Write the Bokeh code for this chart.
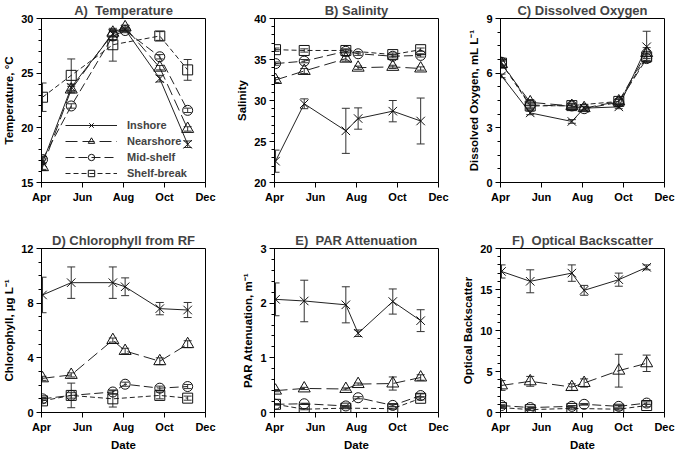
from bokeh.plotting import figure
from bokeh.models import Range1d, FixedTicker, Whisker, TeeHead, ColumnDataSource
from bokeh.layouts import column, row
from bokeh.embed import file_html
from bokeh.resources import INLINE

# ---------------- data ----------------
sample_month = [4.05, 5.45, 7.48, 8.08, 9.77, 11.13]
tick_months = [4, 6, 8, 10, 12]
tick_labels = ["Apr", "Jun", "Aug", "Oct", "Dec"]
series_names = ["Inshore", "Nearshore", "Mid-shelf", "Shelf-break"]

temp_inshore = [16.8, 23.7, 28.6, 29.0, 24.5, 18.5]
temp_nearshore = [16.4, 23.5, 28.7, 29.2, 25.5, 19.9]
temp_midshelf = [17.1, 22.0, 28.4, 28.9, 26.5, 21.6]
temp_shelfbreak = [22.8, 24.8, 27.6, None, 28.4, 25.3]
temp_err_inshore = [0.6, 0.3, 0.3, 0.2, 0.3, 0.3]
temp_err_nearshore = [0.3, 0.3, 0.3, 0.2, 0.2, 0.2]
temp_err_midshelf = [0.3, 0.2, 0.4, 0.2, 0.2, 0.2]
temp_err_shelfbreak = [1.3, 1.5, 1.5, None, 0.4, 0.95]

sal_inshore = [22.6, 29.6, 26.3, 27.8, 28.7, 27.5]
sal_nearshore = [32.5, 33.6, 35.1, 34.0, 34.1, 33.9]
sal_midshelf = [34.5, 34.8, 36.0, 35.7, 35.4, 35.5]
sal_shelfbreak = [36.2, 36.1, 36.1, None, 35.6, 36.2]
sal_err_inshore = [1.35, 0.6, 2.75, 1.3, 1.3, 2.8]
sal_err_nearshore = [0.3, 0.3, 0.3, 0.2, 0.2, 0.2]
sal_err_midshelf = [0.2, 0.2, 0.2, 0.2, 0.2, 0.2]
sal_err_shelfbreak = [0.2, 0.2, 0.2, None, 0.2, 0.2]

do_inshore = [5.85, 3.82, 3.35, 4.08, 4.15, 7.45]
do_nearshore = [6.5, 4.4, 4.2, 4.08, 4.45, 7.1]
do_midshelf = [6.6, 4.25, 4.2, 4.05, 4.4, 6.8]
do_shelfbreak = [6.55, 4.2, 4.22, None, 4.45, 6.9]
do_err_inshore = [0.1, 0.1, 0.1, 0.1, 0.1, 0.85]
do_err_nearshore = [0.15, 0.15, 0.15, 0.1, 0.15, 0.3]
do_err_midshelf = [0.15, 0.15, 0.1, 0.1, 0.15, 0.2]
do_err_shelfbreak = [0.15, 0.15, 0.1, None, 0.1, 0.2]

chl_inshore = [8.6, 9.5, 9.5, 9.2, 7.6, 7.5]
chl_nearshore = [2.5, 2.75, 5.3, 4.5, 3.75, 5.0]
chl_midshelf = [1.0, 1.25, 1.5, 2.07, 1.78, 1.9]
chl_shelfbreak = [0.85, 1.25, 1.0, None, 1.25, 1.05]
chl_err_inshore = [1.3, 1.15, 1.15, 0.65, 0.45, 0.55]
chl_err_nearshore = [0.15, 0.15, 0.15, 0.2, 0.25, 0.25]
chl_err_midshelf = [0.1, 0.2, 0.15, 0.15, 0.15, 0.15]
chl_err_shelfbreak = [0.15, 0.9, 0.6, None, 0.25, 0.15]

par_inshore = [2.07, 2.04, 1.97, 1.45, 2.03, 1.68]
par_nearshore = [0.40, 0.44, 0.43, 0.52, 0.53, 0.64]
par_midshelf = [0.15, 0.16, 0.12, 0.27, 0.13, 0.31]
par_shelfbreak = [0.15, 0.06, 0.08, None, 0.07, 0.26]
par_err_inshore = [0.3, 0.38, 0.33, 0.06, 0.23, 0.2]
par_err_nearshore = [0.02, 0.02, 0.02, 0.02, 0.12, 0.05]
par_err_midshelf = [0.01, 0.01, 0.01, 0.02, 0.02, 0.03]
par_err_shelfbreak = [0.01, 0.01, 0.01, None, 0.01, 0.03]

obs_inshore = [17.2, 16.0, 17.0, 14.9, 16.2, 17.7]
obs_nearshore = [3.3, 3.8, 3.1, 3.6, 5.1, 6.0]
obs_midshelf = [0.85, 0.6, 0.75, 1.0, 0.75, 1.15]
obs_shelfbreak = [0.6, 0.35, 0.5, None, 0.4, 0.85]
obs_err_inshore = [0.8, 1.4, 1.0, 0.6, 0.8, 0.3]
obs_err_nearshore = [0.6, 0.6, 0.4, 0.5, 2.0, 1.0]
obs_err_midshelf = [0.1, 0.1, 0.1, 0.1, 0.1, 0.15]
obs_err_shelfbreak = [0.1, 0.1, 0.1, None, 0.1, 0.15]

# ---------------- style ----------------
FONT = "Liberation Sans"
markers = ["x", "triangle", "circle", "square"]
marker_sizes = [12, 12, 10, 10]
dashes = ["solid", "12 5", "9 4", "5 3"]
LINE = "#222222"


def panel(title, ylabel, ymin, ymax, ystep, nminor, vals, errs, row_pos, col_pos, legend=False):
    if col_pos == 0:
        bl, br = 35, 19
    elif col_pos == 1:
        bl, br = 50, 15
    else:
        bl, br = 47, 11
    if row_pos == 0:
        bt, bb = 14, 40
    else:
        bt, bb = 26, 35
    p = figure(frame_width=164, frame_height=164, output_backend="svg", toolbar_location=None,
               min_border_left=bl, min_border_right=br, min_border_top=bt, min_border_bottom=bb,
               x_range=Range1d(4, 12), y_range=Range1d(ymin, ymax))
    p.title.text = title
    p.title.align = "center"
    p.title.text_font = FONT
    p.title.text_font_size = "13px"
    p.title.text_font_style = "bold"
    p.title.standoff = 1
    p.title.offset = 0
    p.outline_line_color = "black"
    p.outline_line_width = 1
    p.xgrid.visible = False
    p.ygrid.visible = False
    p.background_fill_color = "white"
    p.border_fill_color = "white"

    xa = p.xaxis[0]
    xa.ticker = FixedTicker(ticks=tick_months)
    xa.major_label_overrides = {m: lab for m, lab in zip(tick_months, tick_labels)}
    ya = p.yaxis[0]
    nt = int(round((ymax - ymin) / ystep))
    minor = ystep / nminor
    ya.ticker = FixedTicker(ticks=[ymin + i * ystep for i in range(nt + 1)],
                            minor_ticks=[ymin + i * minor for i in range(nt * nminor + 1)])
    for ax in (xa, ya):
        ax.axis_line_color = "black"
        ax.major_tick_line_color = "black"
        ax.minor_tick_line_color = "black"
        ax.major_tick_out = 5
        ax.major_tick_in = 0
        ax.minor_tick_out = 3
        ax.minor_tick_in = 0
        ax.major_label_text_font = FONT
        ax.major_label_text_font_style = "bold"
        ax.major_label_text_font_size = "11px"
        ax.major_label_text_color = "black"
        ax.major_label_standoff = 3
        ax.axis_label_text_font = FONT
        ax.axis_label_text_font_style = "bold"
        ax.axis_label_text_font_size = "11.5px"
        ax.axis_label_text_color = "black"
        ax.axis_label_standoff = 3
    xa.minor_tick_line_color = None
    ya.axis_label = ylabel
    if row_pos == 1:
        xa.axis_label = "Date"
        xa.axis_label_standoff = 3

    for k in range(4):
        xs = [x for x, v in zip(sample_month, vals[k]) if v is not None]
        ys = [v for v in vals[k] if v is not None]
        es = [e for e, v in zip(errs[k], vals[k]) if v is not None]
        src = ColumnDataSource(dict(x=xs, y=ys,
                                    lo=[y - e for y, e in zip(ys, es)],
                                    hi=[y + e for y, e in zip(ys, es)]))
        w = Whisker(source=src, base="x", upper="hi", lower="lo", line_color="#333333", line_width=1,
                    upper_head=TeeHead(size=8, line_color="#333333", line_width=1),
                    lower_head=TeeHead(size=8, line_color="#333333", line_width=1))
        p.add_layout(w)
        kw = dict(legend_label=series_names[k]) if legend else {}
        p.line("x", "y", source=src, line_color=LINE, line_width=1, line_dash=dashes[k], **kw)
        p.scatter("x", "y", source=src, marker=markers[k], size=marker_sizes[k],
                  line_color="#111111", line_width=1, fill_color=None, **kw)

    if legend:
        lg = p.legend[0]
        lg.location = (24, 1)
        lg.glyph_width = 52
        lg.glyph_height = 16
        lg.spacing = 0
        lg.padding = 0
        lg.margin = 0
        lg.label_standoff = 10
        lg.label_text_font = FONT
        lg.label_text_font_style = "bold"
        lg.label_text_font_size = "11px"
        lg.label_height = 13
        lg.border_line_alpha = 0
        lg.background_fill_alpha = 0
    return p


NB = "\u00a0"
pa = panel("A)" + NB + " Temperature", "Temperature, \u00b0C", 15, 30, 5, 5,
           [temp_inshore, temp_nearshore, temp_midshelf, temp_shelfbreak],
           [temp_err_inshore, temp_err_nearshore, temp_err_midshelf, temp_err_shelfbreak], 0, 0, legend=True)
pb = panel("B) Salinity", "Salinity", 20, 40, 5, 5,
           [sal_inshore, sal_nearshore, sal_midshelf, sal_shelfbreak],
           [sal_err_inshore, sal_err_nearshore, sal_err_midshelf, sal_err_shelfbreak], 0, 1)
pc = panel("C) Dissolved Oxygen", "Dissolved Oxygen, mL L\u207b\u00b9", 0, 9, 3, 4,
           [do_inshore, do_nearshore, do_midshelf, do_shelfbreak],
           [do_err_inshore, do_err_nearshore, do_err_midshelf, do_err_shelfbreak], 0, 2)
pd_ = panel("D) Chlorophyll from RF", "Chlorophyll, \u00b5g L\u207b\u00b9", 0, 12, 4, 4,
            [chl_inshore, chl_nearshore, chl_midshelf, chl_shelfbreak],
            [chl_err_inshore, chl_err_nearshore, chl_err_midshelf, chl_err_shelfbreak], 1, 0)
pe = panel("E)" + NB + " PAR Attenuation", "PAR Attenuation, m\u207b\u00b9", 0, 3, 1, 5,
           [par_inshore, par_nearshore, par_midshelf, par_shelfbreak],
           [par_err_inshore, par_err_nearshore, par_err_midshelf, par_err_shelfbreak], 1, 1)
pf = panel("F)" + NB + " Optical Backscatter", "Optical Backscatter", 0, 20, 5, 5,
           [obs_inshore, obs_nearshore, obs_midshelf, obs_shelfbreak],
           [obs_err_inshore, obs_err_nearshore, obs_err_midshelf, obs_err_shelfbreak], 1, 2)

layout = column(row(pa, pb, pc), row(pd_, pe, pf))
open("out.html", "w").write(file_html(layout, INLINE))
